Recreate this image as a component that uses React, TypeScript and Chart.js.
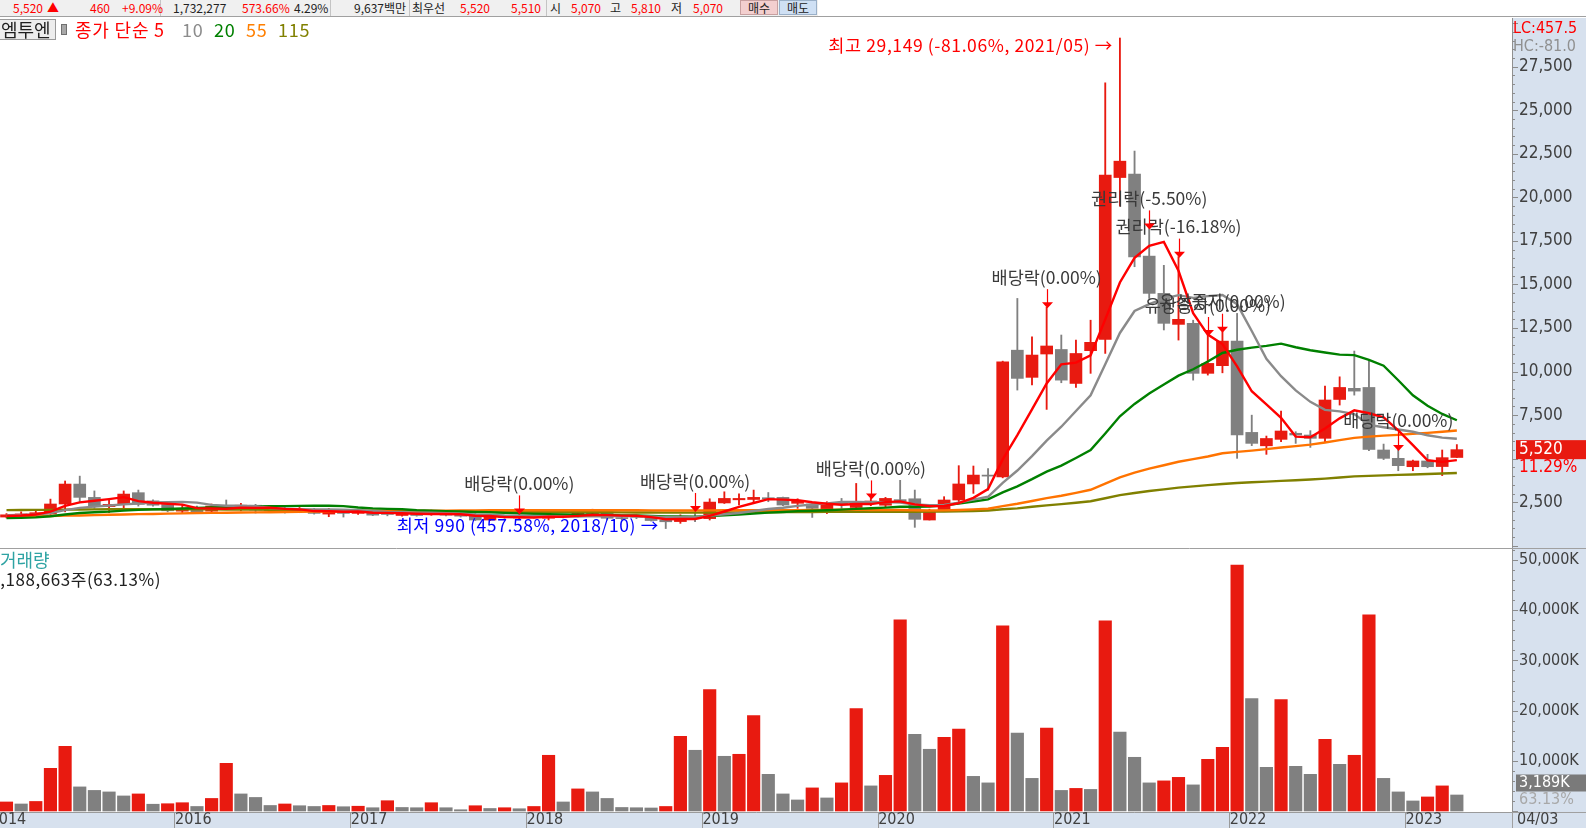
import React, { useEffect, useRef } from 'react';
import { Chart, registerables } from 'chart.js';

Chart.register(...registerables);

// ---------------- categories ----------------
const FIRST_YEAR = 2015;
const BAR_COUNT = 100;
const months: string[] = Array.from({ length: BAR_COUNT }, (_, i) =>
  `${FIRST_YEAR + Math.floor(i / 12)}/${String((i % 12) + 1).padStart(2, '0')}`);

// ---------------- monthly OHLC (won) ----------------
const opens = [1650,1760,1790,1830,2400,3545,2780,2250,2380,3050,
  2580,2370,1990,2140,1990,2320,2140,2330,2100,2120,
  1950,2090,1820,1950,1860,1960,1860,1740,1860,1800,
  1900,1840,1800,1480,1700,1600,1720,1580,1700,1700,
  1860,1960,1620,1700,1640,1480,1390,1640,1560,2460,
  2640,2660,2760,2780,2440,2400,2060,2480,2200,2490,
  2330,2650,2700,1480,2000,2630,3550,4060,3950,11230,
  9670,11010,11270,9320,11200,11850,21140,21340,16630,14490,
  12710,12770,9900,10340,11750,6510,5740,6110,6460,6360,
  6170,8400,9040,9090,5500,5020,4540,4870,4550,5070];
const highs = [1850,1950,1990,2680,3720,4000,3150,2630,3150,3200,
  2640,2420,2330,2280,2400,2630,2440,2380,2200,2250,
  2200,2150,2150,2050,2100,2050,1950,1950,1900,2050,
  1950,1900,1850,1700,1750,1860,1780,2050,1760,1950,
  2100,2020,1700,1740,1700,1520,1780,2000,2700,3100,
  2980,3200,3060,2800,2700,2420,2530,2720,3580,2720,
  2780,3760,3200,2100,2820,4600,4580,4440,10600,14200,
  12000,13700,12100,11810,12950,26580,29149,22660,18220,16100,
  16600,12950,12100,12290,13340,7500,6300,7740,6550,6610,
  9170,9700,11180,10700,5840,5500,4920,5250,5500,5810];
const lows = [1600,1640,1730,1800,1950,2530,2150,1900,2150,2280,
  2280,1950,1900,1880,1950,2140,2010,1880,1950,1880,
  1900,1820,1670,1650,1800,1730,1720,1700,1700,1750,
  1720,1650,1450,1450,1580,1560,1600,1480,1600,1650,
  1710,1480,1500,1560,1420,990,1290,1390,1480,2430,
  2340,2440,2530,2300,2150,1630,1850,2150,2150,2300,
  2200,2500,1060,1480,1960,2450,3010,3200,3900,8940,
  9230,7830,9360,9090,9900,11040,19500,16020,14200,12390,
  11810,9510,9800,9930,5020,5750,5250,5980,5880,5650,
  5980,8080,8650,5460,4950,4310,4310,4480,4030,5070];
const closes = [1780,1830,1900,2400,3545,2780,2300,2380,2970,2380,
  2330,2010,2130,1960,2280,2260,2330,2050,2010,1960,
  2090,1860,2010,1860,2010,1760,1800,1900,1740,1950,
  1760,1700,1480,1670,1620,1720,1640,1710,1650,1860,
  2000,1580,1560,1640,1450,1380,1680,1560,2510,2720,
  2720,2780,2680,2340,2570,2150,2340,2400,2520,2570,
  2720,2550,1520,2020,2630,3550,4060,4000,10560,9610,
  10950,11470,9510,11040,11680,21280,22080,16590,14490,12770,
  13000,9900,10470,11750,6360,5880,6160,6590,6360,6170,
  8370,9090,8880,5530,5020,4600,4870,4540,5060,5520];

// ---------------- volume (thousand shares) ----------------
const volumes = [1800,1400,1900,8500,12900,4800,4100,3800,3000,3400,
  1350,1450,1650,900,2500,9500,3400,2700,1100,1400,
  1050,900,1100,850,950,650,2050,700,650,1650,
  650,250,1050,500,650,450,900,11100,1800,4400,
  3800,2500,700,650,600,900,14900,12100,24200,10900,
  11300,19000,7300,3400,2200,4600,2600,5600,20400,5000,
  7100,38100,15300,12300,14700,16300,6900,5600,36900,15500,
  6500,16500,4100,4500,4300,37900,15700,10700,5600,6000,
  6700,5200,10300,12700,49000,22400,8700,22200,8900,7300,
  14300,9300,11100,39100,6500,3800,2000,2800,5000,3189];

// ---------------- moving averages ----------------
const ma5 = [1710,1740,1800,1960,2291,2491,2585,2681,2795,2562,
  2472,2414,2364,2162,2142,2128,2192,2176,2186,2122,
  2088,1994,1986,1956,1966,1900,1888,1866,1842,1830,
  1830,1810,1726,1712,1646,1638,1626,1672,1668,1716,
  1772,1760,1730,1728,1646,1522,1542,1542,1716,1970,
  2238,2458,2682,2648,2618,2504,2416,2360,2396,2396,
  2510,2552,2376,2276,2288,2454,2756,3252,4960,6356,
  7836,9318,10420,10516,10930,12996,15118,16534,17224,17442,
  15786,13350,12126,11578,10296,8872,8124,7348,6270,6232,
  6730,7316,7774,7608,7378,6624,5780,4912,4818,4918];
const ma10 = [1750,1770,1800,1880,2050,2180,2250,2310,2380,2427,
  2482,2500,2523,2479,2352,2300,2303,2270,2174,2132,
  2108,2093,2081,2071,2044,1994,1941,1926,1899,1898,
  1865,1849,1796,1777,1738,1734,1718,1699,1690,1681,
  1705,1693,1701,1698,1681,1647,1651,1636,1722,1808,
  1880,2000,2112,2182,2294,2371,2437,2521,2522,2507,
  2507,2484,2368,2336,2342,2482,2654,2814,3618,4322,
  5145,6037,6836,7738,8643,10416,12218,13477,13870,14186,
  14391,14234,14330,14401,13869,12329,10737,9737,8924,8264,
  7801,7720,7561,6939,6805,6677,6548,6343,6213,6148];
const ma20 = [1600,1610,1630,1700,1800,1880,1930,1960,2020,2060,
  2090,2110,2140,2170,2200,2230,2250,2260,2270,2279,
  2295,2296,2302,2275,2198,2147,2122,2098,2037,2015,
  1987,1971,1939,1924,1891,1864,1830,1813,1795,1790,
  1785,1771,1749,1738,1710,1691,1685,1668,1706,1745,
  1793,1847,1907,1940,1988,2009,2044,2079,2122,2158,
  2194,2242,2240,2259,2318,2427,2546,2668,3070,3415,
  3826,4261,4602,5037,5493,6449,7436,8146,8744,9254,
  9768,10136,10583,11070,11256,11373,11478,11607,11397,11225,
  11096,10977,10946,10670,10337,9503,8643,8040,7569,7206];
const ma55 = [1680,1690,1700,1710,1730,1740,1760,1780,1800,1820,
  1830,1850,1860,1880,1890,1900,1910,1920,1930,1940,
  1950,1960,1970,1980,1990,2000,2000,2010,2010,2020,
  2020,2030,2030,2040,2040,2040,2040,2040,2040,2040,
  2040,2040,2040,2040,2035,2030,2030,2030,2035,2040,
  2040,2045,2045,2045,2046,2053,2062,2071,2074,2056,
  2055,2059,2044,2026,2031,2053,2090,2124,2281,2414,
  2572,2738,2874,3038,3215,3564,3931,4196,4426,4622,
  4826,4973,5129,5311,5391,5466,5547,5640,5725,5808,
  5929,6065,6195,6265,6323,6370,6430,6484,6546,6620];
const ma115 = [2050,2055,2060,2065,2075,2085,2090,2095,2100,2100,
  2100,2100,2100,2095,2090,2085,2080,2075,2070,2065,
  2060,2050,2040,2030,2020,2010,2000,1995,1990,1985,
  1980,1975,1970,1965,1960,1955,1950,1945,1940,1935,
  1930,1925,1920,1915,1910,1905,1905,1905,1910,1915,
  1920,1925,1930,1935,1940,1940,1945,1945,1950,1950,
  1952,1955,1958,1960,1965,1980,2000,2030,2095,2150,
  2243,2320,2394,2470,2560,2729,2906,3030,3145,3240,
  3337,3410,3483,3550,3609,3645,3683,3725,3764,3810,
  3859,3920,3984,4015,4045,4070,4096,4120,4148,4180];

// ---------------- axis labels ----------------
const priceAxisLabels = [2500, 7500, 10000, 12500, 15000, 17500, 20000, 22500, 25000, 27500];
const volumeAxisLabels = [10000, 20000, 30000, 40000, 50000];
const leadingYearLabel = '2014';
const lastDateLabel = '04/03';

// ---------------- event annotations ----------------
const eventMarks = [
  { month: '2017/12', text: '배당락(0.00%)' },
  { month: '2018/12', text: '배당락(0.00%)' },
  { month: '2019/12', text: '배당락(0.00%)' },
  { month: '2020/12', text: '배당락(0.00%)' },
  { month: '2021/07', text: '권리락(-5.50%)' },
  { month: '2021/09', text: '권리락(-16.18%)' },
  { month: '2021/11', text: '유상증자(0.00%)' },
  { month: '2021/12', text: '유상증자(0.00%)' },
  { month: '2022/12', text: '배당락(0.00%)' },
];
const highMark = { month: '2021/05', text: '최고 29,149 (-81.06%, 2021/05) →' };
const lowMark = { month: '2018/10', text: '최저 990 (457.58%, 2018/10) →' };

const headerItems = [
  { t: '5,520', x: 13, c: 'red' }, { t: '▲', x: 47, c: 'red' }, { t: '460', x: 90, c: 'red' },
  { t: '+9.09%', x: 122, c: 'red' }, { t: '1,732,277', x: 173, c: '#222' }, { t: '573.66%', x: 242, c: 'red' },
  { t: '4.29%', x: 294, c: '#222' }, { t: '9,637백만', x: 354, c: '#222' }, { t: '최우선', x: 412, c: '#222' },
  { t: '5,520', x: 460, c: 'red' }, { t: '5,510', x: 511, c: 'red' }, { t: '시', x: 550, c: '#222' },
  { t: '5,070', x: 571, c: 'red' }, { t: '고', x: 610, c: '#222' }, { t: '5,810', x: 631, c: 'red' },
  { t: '저', x: 671, c: '#222' }, { t: '5,070', x: 693, c: 'red' },
];
const headerSeparators = [160, 330, 409, 546];

// ---------------- styles ----------------
const RED = '#E81A10';
const GRAY = '#808080';
const AXIS_BG = '#D7E1EE';
const AXIS_TEXT = '#404040';
const KR = "'Noto Sans CJK KR', 'Noto Sans', sans-serif";
const NUM = "'DejaVu Sans Condensed', 'DejaVu Sans', sans-serif";
const PLOT_RIGHT = 1512;
const AXIS_W = 74;
const PX_PER_BAR = 14.65;
const X_MIN = -6.5 / PX_PER_BAR;
const X_MAX = X_MIN + PLOT_RIGHT / PX_PER_BAR;

const candleColors = closes.map((c, i) => (c >= opens[i] ? RED : GRAY));
const volumeColors = volumes.map((v, i) => (i === 0 || v > volumes[i - 1] ? RED : GRAY));

const yearTicks = [{ value: -1.15, label: leadingYearLabel }].concat(
  months
    .map((m, i) => ({ m, i }))
    .filter(({ m, i }) => i > 0 && m.endsWith('/01'))
    .map(({ m, i }) => ({ value: i - 0.5, label: m.slice(0, 4) }))
);

const fmt = (v: number) => Math.round(v).toLocaleString('en-US');

const fixAxis = (w?: number, h?: number) => (s: any) => {
  if (w !== undefined) s.width = w;
  if (h !== undefined) s.height = h;
  s.paddingTop = 0; s.paddingBottom = 0; s.paddingLeft = 0; s.paddingRight = 0;
};

const maLine = (label: string, data: number[], color: string, order: number) => ({
  type: 'line', label, data: data.map((v, i) => ({ x: i, y: v })),
  borderColor: color, borderWidth: 2.4, pointRadius: 0, tension: 0, order,
});

const pricePlugin = {
  id: 'pricePlugin',
  beforeDraw(chart: any) {
    const { ctx, chartArea: ca, width, height } = chart;
    ctx.save();
    ctx.fillStyle = '#ffffff'; ctx.fillRect(0, 0, width, height);
    ctx.fillStyle = AXIS_BG; ctx.fillRect(ca.right, 0, width - ca.right, height);
    ctx.restore();
  },
  afterDraw(chart: any) {
    const { ctx, chartArea: ca, scales } = chart;
    const xs = scales.x, ys = scales.y;
    ctx.save();
    // axis tick marks
    ctx.strokeStyle = '#8c8c8c'; ctx.lineWidth = 1;
    for (let v = 0; v <= 30000; v += 500) {
      const py = Math.round(ys.getPixelForValue(v)) + 0.5;
      if (py < 0 || py > ca.bottom) continue;
      ctx.beginPath(); ctx.moveTo(ca.right, py); ctx.lineTo(ca.right + (v % 2500 === 0 ? 6 : 3), py); ctx.stroke();
    }
    // event annotations
    ctx.font = `17.5px ${KR}`; ctx.textAlign = 'center'; ctx.textBaseline = 'middle';
    for (const ev of eventMarks) {
      const i = months.indexOf(ev.month);
      const px = xs.getPixelForValue(i);
      const tip = ys.getPixelForValue(highs[i]) + 1;
      ctx.fillStyle = '#3a3a3a';
      ctx.fillText(ev.text, px, tip - 31);
    }
    for (const ev of eventMarks) {
      const i = months.indexOf(ev.month);
      const px = Math.round(xs.getPixelForValue(i)) + 0.5;
      const tip = ys.getPixelForValue(highs[i]) + 1;
      ctx.strokeStyle = '#FF0000'; ctx.lineWidth = 1.2;
      ctx.beginPath(); ctx.moveTo(px, tip - 19); ctx.lineTo(px, tip - 5); ctx.stroke();
      ctx.fillStyle = '#FF0000';
      ctx.beginPath(); ctx.moveTo(px - 5.5, tip - 6); ctx.lineTo(px + 5.5, tip - 6); ctx.lineTo(px, tip); ctx.closePath(); ctx.fill();
    }
    // high / low marks
    ctx.textAlign = 'right';
    (ctx as any).letterSpacing = '0.6px';
    const hi = months.indexOf(highMark.month);
    ctx.fillStyle = '#FF0000';
    ctx.fillText(highMark.text, xs.getPixelForValue(hi) - 7, ys.getPixelForValue(highs[hi]) + 7);
    const lo = months.indexOf(lowMark.month);
    ctx.fillStyle = '#0000FF';
    ctx.fillText(lowMark.text, xs.getPixelForValue(lo) - 7, ys.getPixelForValue(lows[lo]) - 3.5);
    (ctx as any).letterSpacing = '0px';

    // legend
    ctx.textAlign = 'left';
    ctx.fillStyle = '#EDEDED'; ctx.fillRect(-1, 1, 57, 21);
    ctx.strokeStyle = '#9a9a9a'; ctx.lineWidth = 1; ctx.strokeRect(-0.5, 1.5, 56, 20);
    ctx.font = `18px ${KR}`;
    ctx.fillStyle = '#202020'; ctx.fillText('엠투엔', 1, 12);
    ctx.fillStyle = '#A8A8A8'; ctx.fillRect(62, 7, 5, 10);
    ctx.strokeStyle = '#707070'; ctx.strokeRect(61.5, 6.5, 5, 10);
    (ctx as any).letterSpacing = '0.8px';
    const legend = [
      { t: '종가 단순 5', x: 75, c: '#FF0000' }, { t: '10', x: 182, c: '#8C8C8C' },
      { t: '20', x: 214, c: '#008000' }, { t: '55', x: 246, c: '#FF7F00' }, { t: '115', x: 278, c: '#808000' },
    ];
    for (const l of legend) { ctx.fillStyle = l.c; ctx.fillText(l.t, l.x, 12); }
    (ctx as any).letterSpacing = '0px';

    // LC / HC
    ctx.font = `16px ${NUM}`;
    ctx.fillStyle = '#FF0000'; ctx.fillText('LC:457.5', ca.right + 1, 11);
    ctx.fillStyle = '#909090'; ctx.fillText('HC:-81.0', ca.right + 1, 29);

    // current price tag
    const last = closes[closes.length - 1];
    const ty = ys.getPixelForValue(last);
    ctx.fillStyle = RED; ctx.fillRect(ca.right + 4, ty - 9.5, AXIS_W - 4, 19);
    ctx.font = `17px ${NUM}`;
    ctx.fillStyle = '#ffffff'; ctx.fillText(fmt(last), ca.right + 7, ty);
    ctx.fillStyle = '#FF0000'; ctx.fillText('11.29%', ca.right + 7, ty + 18);
    ctx.restore();
  },
};

const volumePlugin = {
  id: 'volumePlugin',
  beforeDraw(chart: any) {
    const { ctx, chartArea: ca, width, height } = chart;
    ctx.save();
    ctx.fillStyle = '#ffffff'; ctx.fillRect(0, 0, width, height);
    ctx.fillStyle = AXIS_BG;
    ctx.fillRect(ca.right, 0, width - ca.right, ca.bottom);
    ctx.fillRect(0, ca.bottom, width, height - ca.bottom);
    ctx.restore();
  },
  afterDraw(chart: any) {
    const { ctx, chartArea: ca, scales, width, height } = chart;
    const ys = scales.y;
    ctx.save();
    ctx.strokeStyle = '#a0a0a0'; ctx.lineWidth = 1;
    ctx.beginPath(); ctx.moveTo(0, 0.5); ctx.lineTo(width, 0.5); ctx.stroke();
    ctx.beginPath(); ctx.moveTo(ca.right, ca.bottom + 0.5); ctx.lineTo(width, ca.bottom + 0.5); ctx.stroke();
    ctx.beginPath(); ctx.moveTo(ca.right + 0.5, ca.bottom); ctx.lineTo(ca.right + 0.5, height); ctx.stroke();
    ctx.strokeStyle = '#8c8c8c';
    for (let v = 0; v <= 52000; v += 2000) {
      const py = Math.round(ys.getPixelForValue(v)) + 0.5;
      if (py < 2 || py > ca.bottom) continue;
      ctx.beginPath(); ctx.moveTo(ca.right, py); ctx.lineTo(ca.right + (v % 10000 === 0 ? 6 : 3), py); ctx.stroke();
    }
    // volume tag
    const last = volumes[volumes.length - 1];
    const ty = ys.getPixelForValue(last) - 12;
    ctx.fillStyle = '#7a7a7a'; ctx.fillRect(ca.right + 4, ty - 8.5, AXIS_W - 4, 17);
    ctx.font = `16px ${NUM}`; ctx.textBaseline = 'middle'; ctx.textAlign = 'left';
    ctx.fillStyle = '#ffffff'; ctx.fillText(`${fmt(last)}K`, ca.right + 7, ty);
    ctx.fillStyle = '#a8a8a8'; ctx.fillText('63.13%', ca.right + 7, ty + 17);
    // last date
    ctx.fillStyle = AXIS_TEXT; ctx.fillText(lastDateLabel, ca.right + 5, ca.bottom + 8);
    // legend
    ctx.font = `18px ${KR}`;
    ctx.fillStyle = '#2EA3A3'; ctx.fillText('거래량', 0, 12);
    ctx.font = `17px ${KR}`; ctx.textAlign = 'right';
    (ctx as any).letterSpacing = '0.55px';
    ctx.fillStyle = '#202020'; ctx.fillText('3,188,663주(63.13%)', 161, 32);
    (ctx as any).letterSpacing = '0px';
    ctx.restore();
  },
};

const priceConfig: any = {
  type: 'bar',
  data: {
    datasets: [
      maLine('5', ma5, '#FF0000', 1),
      maLine('10', ma10, '#8A8A8A', 2),
      maLine('20', ma20, '#008000', 3),
      maLine('55', ma55, '#FF7300', 4),
      maLine('115', ma115, '#808000', 5),
      {
        type: 'bar', label: 'body', data: opens.map((o, i) => ({ x: i, y: [o, closes[i]] })),
        backgroundColor: candleColors, barThickness: 12, minBarLength: 1, grouped: false, order: 10,
      },
      {
        type: 'bar', label: 'wick', data: lows.map((l, i) => ({ x: i, y: [l, highs[i]] })),
        backgroundColor: candleColors, barThickness: 1.2, grouped: false, order: 11,
      },
    ],
  },
  options: {
    animation: false, responsive: false, maintainAspectRatio: false,
    layout: { padding: 0 },
    plugins: { legend: { display: false }, tooltip: { enabled: false } },
    scales: {
      x: { type: 'linear', min: X_MIN, max: X_MAX, display: false, offset: false, grid: { offset: false } },
      y: {
        position: 'right', min: -126, max: 30298,
        afterBuildTicks: (s: any) => { s.ticks = priceAxisLabels.map((v) => ({ value: v })); },
        afterFit: fixAxis(AXIS_W),
        ticks: { callback: (v: any) => fmt(Number(v)), color: AXIS_TEXT, padding: 7, font: { family: NUM, size: 17 } },
        grid: { display: false, drawTicks: false },
        border: { display: true, color: '#909090' },
      },
    },
  },
  plugins: [pricePlugin],
};

const volumeConfig: any = {
  type: 'bar',
  data: {
    datasets: [{
      label: 'vol', data: volumes.map((v, i) => ({ x: i, y: v })),
      backgroundColor: volumeColors, barThickness: 12.5, grouped: false,
    }],
  },
  options: {
    animation: false, responsive: false, maintainAspectRatio: false,
    layout: { padding: 0 },
    plugins: { legend: { display: false }, tooltip: { enabled: false } },
    scales: {
      x: {
        type: 'linear', min: X_MIN, max: X_MAX, position: 'bottom', offset: false,
        afterBuildTicks: (s: any) => { s.ticks = yearTicks.map((t) => ({ value: t.value })); },
        afterFit: fixAxis(undefined, 16),
        ticks: {
          autoSkip: false, maxRotation: 0, minRotation: 0, align: 'start', padding: -17.5,
          color: AXIS_TEXT, font: { family: NUM, size: 16 },
          callback: (_v: any, idx: number) => yearTicks[idx] ? yearTicks[idx].label : '',
        },
        grid: { offset: false, drawOnChartArea: false, drawTicks: true, tickLength: 16, tickColor: '#9a9a9a' },
        border: { display: true, color: '#9a9a9a' },
      },
      y: {
        position: 'right', min: -200, max: 52400,
        afterBuildTicks: (s: any) => { s.ticks = volumeAxisLabels.map((v) => ({ value: v })); },
        afterFit: fixAxis(AXIS_W),
        ticks: { callback: (v: any) => `${fmt(Number(v))}K`, color: AXIS_TEXT, padding: 7, font: { family: NUM, size: 16 } },
        grid: { display: false, drawTicks: false },
        border: { display: true, color: '#909090' },
      },
    },
  },
  plugins: [volumePlugin],
};

function Header() {
  const btn = { position: 'absolute' as const, top: 0, width: 38, height: 15, boxSizing: 'border-box' as const, fontSize: 12, fontFamily: KR, lineHeight: '13px', textAlign: 'center' as const, color: '#222' };
  return (
    <div style={{ position: 'absolute', left: 0, top: 0, width: 1586, height: 17 }}>
      <div style={{ position: 'absolute', left: 0, top: 0, width: 818, height: 16, background: '#F0F0F0' }} />
      {headerSeparators.map((x) => (
        <div key={x} style={{ position: 'absolute', left: x, top: 0, width: 1, height: 16, background: '#C4C4C4' }} />
      ))}
      {headerItems.map((h, i) => (
        <span key={i} style={{ position: 'absolute', left: h.x, top: 0, height: 16, lineHeight: '15px', fontSize: 12, fontFamily: KR, color: h.c, whiteSpace: 'nowrap' }}>{h.t}</span>
      ))}
      <div style={{ ...btn, left: 740, background: '#F3CFCF', border: '1px solid #C8A0A0' }}>매수</div>
      <div style={{ ...btn, left: 779, background: '#CFE0F4', border: '1px solid #9AB0C8' }}>매도</div>
      <div style={{ position: 'absolute', left: 0, top: 16, width: 1586, height: 1, background: '#A0A0A0' }} />
    </div>
  );
}

export default function App() {
  const priceRef = useRef<HTMLCanvasElement>(null);
  const volRef = useRef<HTMLCanvasElement>(null);
  useEffect(() => {
    const pc = new Chart(priceRef.current as HTMLCanvasElement, priceConfig);
    const vc = new Chart(volRef.current as HTMLCanvasElement, volumeConfig);
    return () => { pc.destroy(); vc.destroy(); };
  }, []);
  return (
    <div style={{ position: 'absolute', left: 0, top: 0, width: 1586, height: 828, background: '#fff', overflow: 'hidden' }}>
      <Header />
      <canvas ref={priceRef} width={1586} height={530} style={{ position: 'absolute', left: 0, top: 18, width: 1586, height: 530 }} />
      <canvas ref={volRef} width={1586} height={280} style={{ position: 'absolute', left: 0, top: 548, width: 1586, height: 280 }} />
    </div>
  );
}
